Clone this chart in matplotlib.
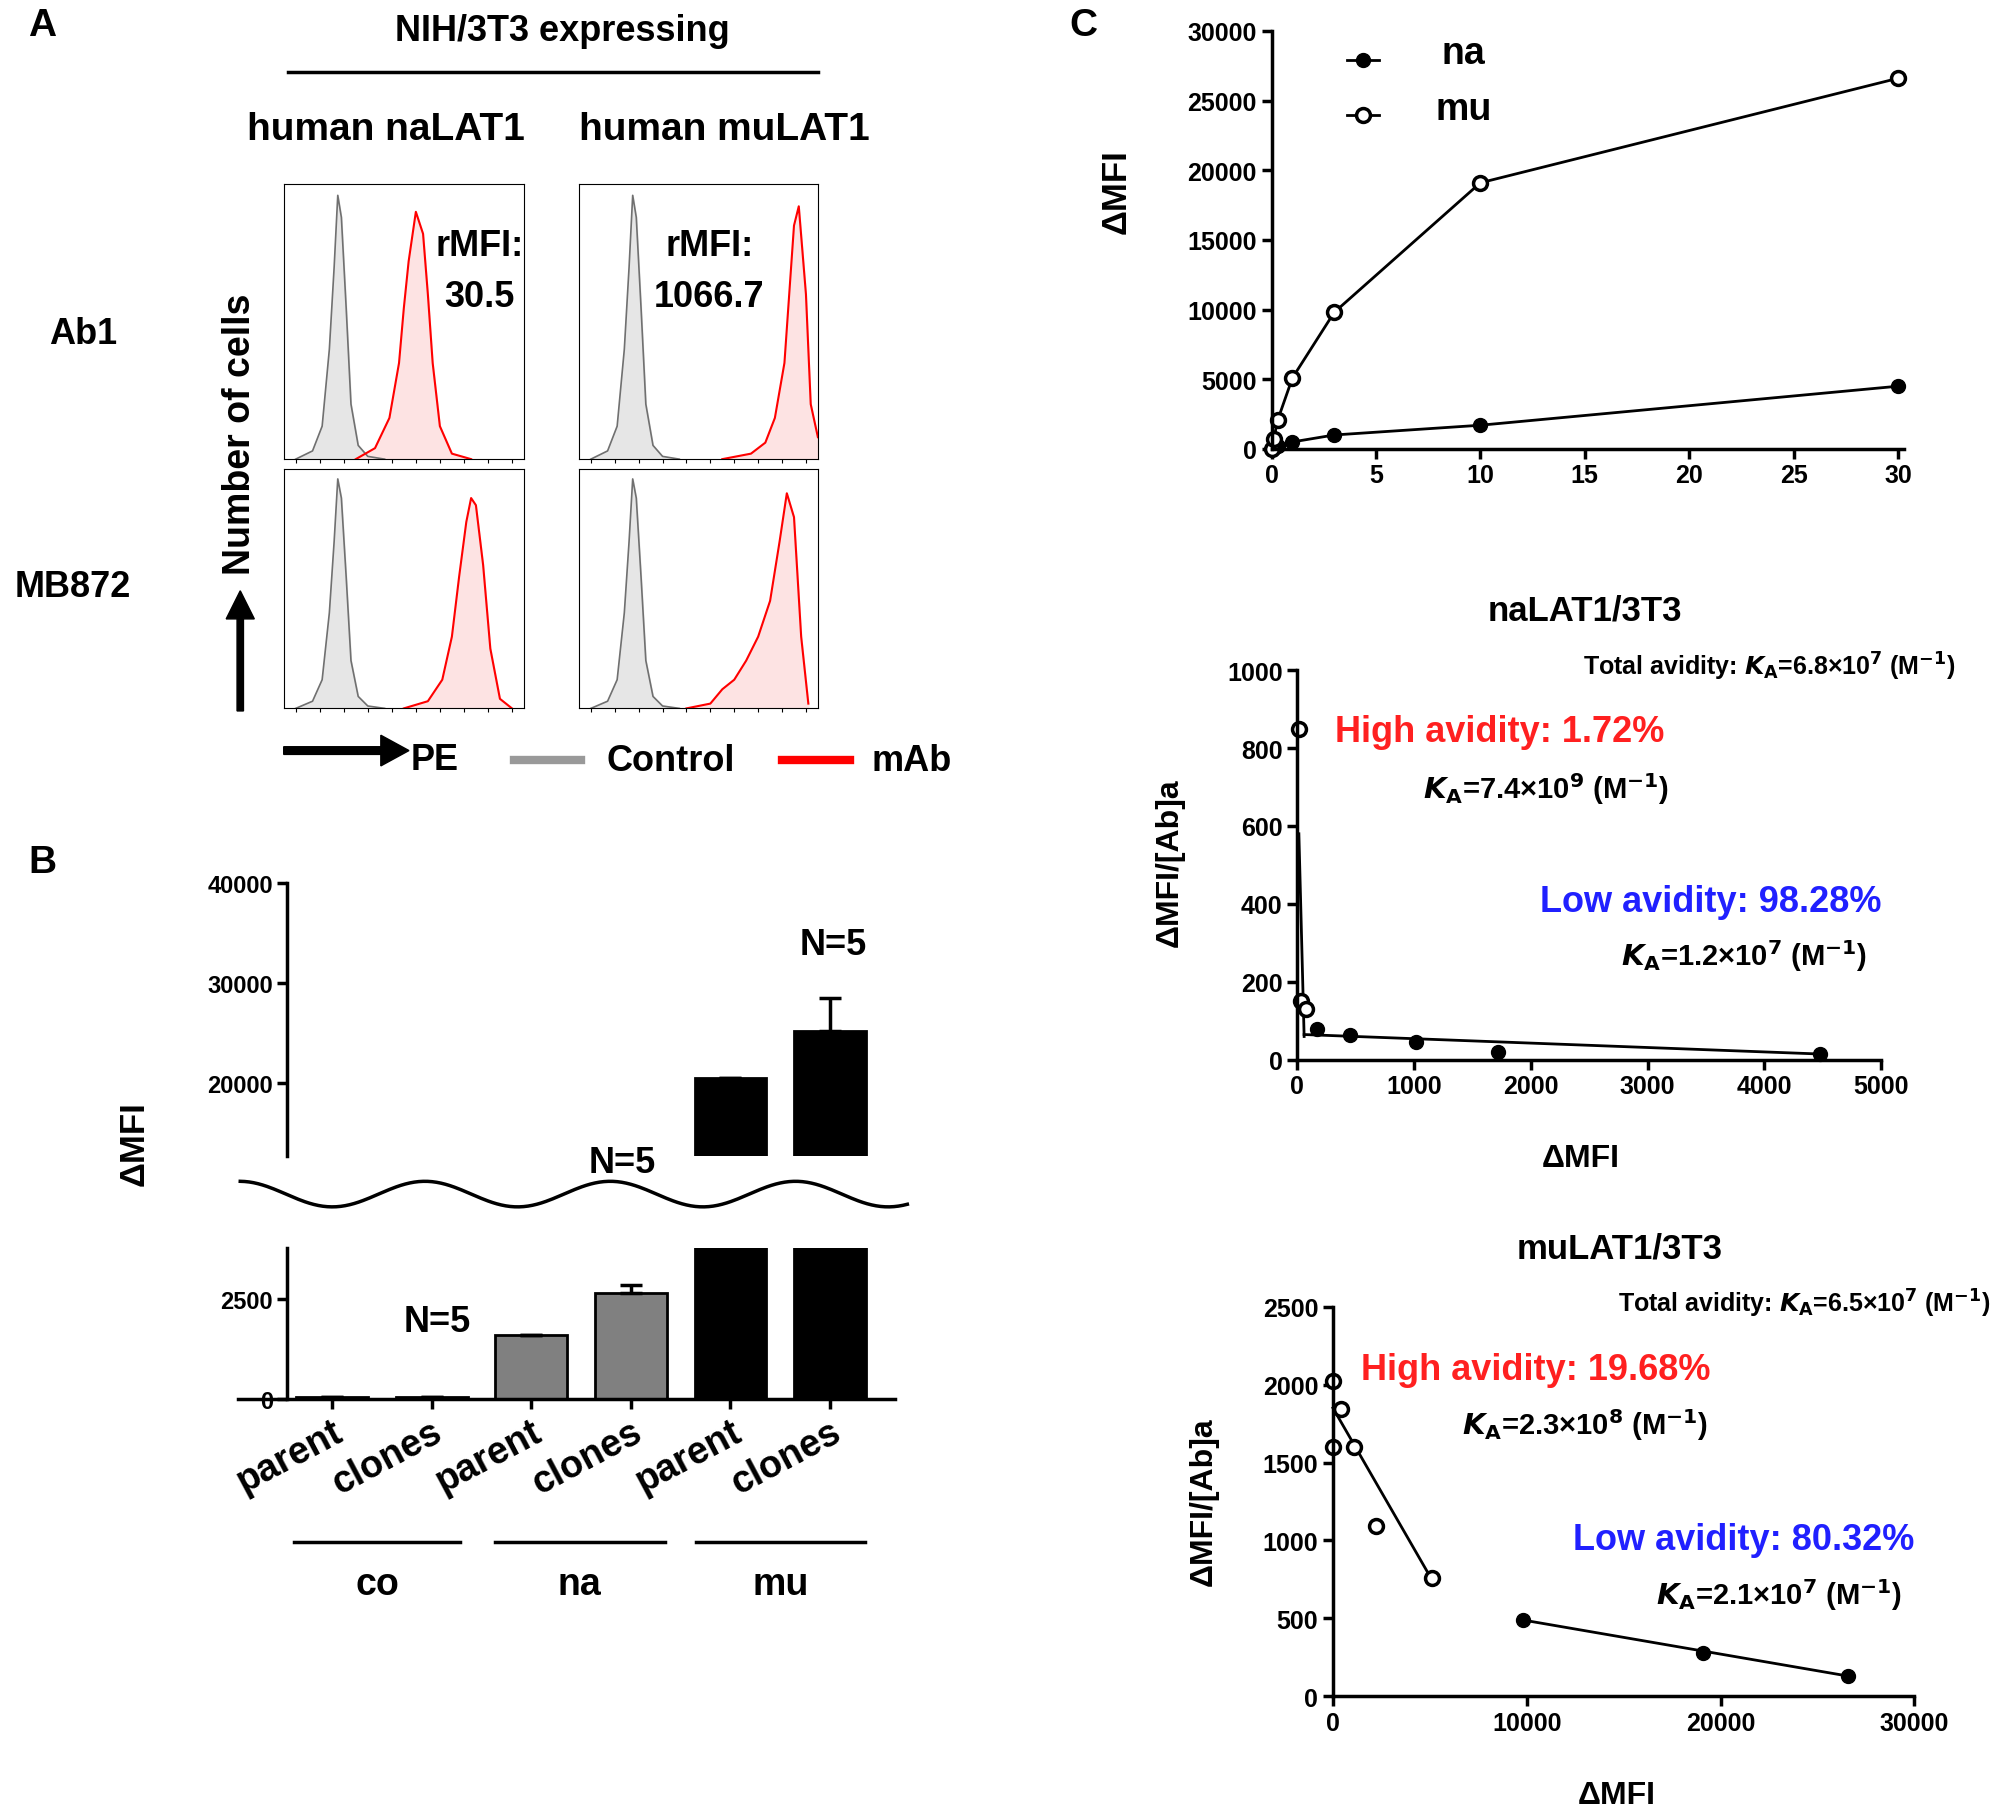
import numpy as np
import matplotlib
matplotlib.use("Agg")
import matplotlib.pyplot as plt

plt.rcParams['font.family'] = ['Liberation Sans', 'DejaVu Sans']
plt.rcParams['font.weight'] = 'bold'
plt.rcParams['axes.labelweight'] = 'bold'

W, H = 1565.0, 1420.0
fig = plt.figure(figsize=(20, 18.15), dpi=100)

def ax_at(x0, y0, x1, y1):
    return fig.add_axes([x0 / W, 1 - y1 / H, (x1 - x0) / W, (y1 - y0) / H])

def T(x, y, s, **kw):
    kw.setdefault('ha', 'center'); kw.setdefault('va', 'center')
    fig.text(x / W, 1 - y / H, s, **kw)

# ---------------- Data ----------------
ctrl_x = [0.05, 0.12, 0.16, 0.19, 0.21, 0.225, 0.24, 0.26, 0.28, 0.31, 0.35, 0.42]
ctrl_y = [0.0, 0.03, 0.12, 0.4, 0.7, 0.96, 0.88, 0.55, 0.2, 0.05, 0.01, 0.0]
a_tl_x = [0.3, 0.38, 0.44, 0.48, 0.5, 0.52, 0.55, 0.58, 0.6, 0.62, 0.65, 0.7, 0.78]
a_tl_y = [0.0, 0.04, 0.15, 0.35, 0.55, 0.72, 0.9, 0.82, 0.6, 0.35, 0.12, 0.02, 0.0]
a_tr_x = [0.6, 0.72, 0.78, 0.82, 0.86, 0.88, 0.9, 0.92, 0.95, 0.97, 1.0]
a_tr_y = [0.0, 0.02, 0.06, 0.15, 0.35, 0.6, 0.85, 0.92, 0.6, 0.2, 0.08]
a_bl_x = [0.5, 0.6, 0.66, 0.7, 0.73, 0.76, 0.78, 0.8, 0.83, 0.86, 0.9, 0.95]
a_bl_y = [0.0, 0.03, 0.12, 0.3, 0.55, 0.78, 0.88, 0.85, 0.6, 0.25, 0.04, 0.0]
a_br_x = [0.45, 0.55, 0.6, 0.65, 0.7, 0.75, 0.8, 0.84, 0.87, 0.9, 0.93, 0.96]
a_br_y = [0.0, 0.02, 0.08, 0.12, 0.2, 0.3, 0.45, 0.7, 0.9, 0.8, 0.3, 0.02]

b_labels = ['parent', 'clones', 'parent', 'clones', 'parent', 'clones']
b_values = [50, 50, 1600, 2650, 20500, 25200]
b_err = [0, 0, 0, 200, 0, 3300]
b_colors = ['#808080', '#808080', '#808080', '#808080', 'black', 'black']
b_groups = ['co', 'na', 'mu']

conc = [0, 0.1, 0.3, 1, 3, 10, 30]
na_mfi = [0, 100, 200, 500, 1000, 1700, 4500]
mu_mfi = [0, 700, 2100, 5100, 9800, 19100, 26600]

na_open_x = [17, 30, 80]
na_open_y = [850, 150, 130]
na_fill_x = [170, 450, 1020, 1720, 4480]
na_fill_y = [80, 65, 45, 20, 15]
na_high_x = [15, 60]; na_high_y = [580, 60]
na_low_x = [60, 4480]; na_low_y = [65, 15]

mu_open_x = [0, 0, 400, 1100, 2200, 5100]
mu_open_y = [2020, 1600, 1840, 1600, 1090, 760]
mu_fill_x = [9800, 19100, 26600]
mu_fill_y = [490, 280, 130]
mu_high_x = [0, 5100]; mu_high_y = [1850, 750]
mu_low_x = [9800, 26600]; mu_low_y = [490, 130]

SB = 'semibold'

# ---------------- Panel A ----------------
T(33, 20, 'A', fontsize=28)
T(440, 25, 'NIH/3T3 expressing', fontsize=26, weight=SB)
fig.add_artist(plt.Line2D([225 / W, 640 / W], [1 - 57 / H] * 2, color='black', lw=2.5))
T(302, 102, 'human naLAT1', fontsize=28, weight=SB)
T(567, 102, 'human muLAT1', fontsize=28, weight=SB)
T(65, 262, 'Ab1', fontsize=26, weight=SB)
T(57, 460, 'MB872', fontsize=26, weight=SB)

boxes = [(222, 145, 410, 360), (453, 145, 640, 360), (222, 368, 410, 555), (453, 368, 640, 555)]
reds = [(a_tl_x, a_tl_y), (a_tr_x, a_tr_y), (a_bl_x, a_bl_y), (a_br_x, a_br_y)]
for (bx, (rx, ry)) in zip(boxes, reds):
    ax = ax_at(*bx)
    ax.fill_between(ctrl_x, ctrl_y, color='#e6e6e6')
    ax.plot(ctrl_x, ctrl_y, color='#707070', lw=1.2)
    ax.fill_between(rx, ry, color='#fde3e3')
    ax.plot(rx, ry, color='red', lw=1.5)
    ax.set_xlim(0, 1); ax.set_ylim(0, 1)
    ax.set_xticks(np.linspace(0.05, 0.95, 10)); ax.set_yticks([])
    ax.tick_params(axis='x', length=3, labelbottom=False)
T(375, 193, 'rMFI:', fontsize=26, weight=SB)
T(375, 233, '30.5', fontsize=26, weight=SB)
T(555, 193, 'rMFI:', fontsize=26, weight=SB)
T(555, 233, '1066.7', fontsize=26, weight=SB)

T(188, 340, 'Number of cells', fontsize=27, weight=SB, rotation=90)
fig.add_artist(matplotlib.patches.FancyArrow(188 / W, 1 - 557 / H, 0, 72 / H, width=5 / W,
               head_width=22 / W, head_length=22 / H, color='black', transform=fig.transFigure))
fig.add_artist(matplotlib.patches.FancyArrow(222 / W, 1 - 588 / H, 76 / W, 0, width=6 / H,
               head_width=24 / H, head_length=22 / W, color='black', transform=fig.transFigure))
T(340, 595, 'PE', fontsize=26, weight=SB)
fig.add_artist(plt.Line2D([402 / W, 455 / W], [1 - 595 / H] * 2, color='#999999', lw=6))
T(525, 596, 'Control', fontsize=26, weight=SB)
fig.add_artist(plt.Line2D([612 / W, 665 / W], [1 - 595 / H] * 2, color='red', lw=6))
T(713, 596, 'mAb', fontsize=26, weight=SB)

# ---------------- Panel B ----------------
T(33, 675, 'B', fontsize=28)
xpos = np.arange(len(b_values))
axT = ax_at(186, 692, 700, 905)
axB = ax_at(186, 977, 700, 1095)
for ax in (axT, axB):
    ax.bar(xpos, b_values, width=0.72, color=b_colors, edgecolor='black', lw=2,
           yerr=[np.zeros(6), b_err], capsize=8, error_kw=dict(lw=2.5, capthick=2.5))
    ax.set_xlim(-0.95, 5.65)
    for s in ('top', 'right'):
        ax.spines[s].set_visible(False)
    ax.spines['left'].set_position(('data', -0.45))
    ax.spines['left'].set_linewidth(2.5)
    ax.tick_params(width=2.5, length=7, labelsize=17)
axT.set_ylim(12700, 40000); axT.set_yticks([20000, 30000, 40000])
axT.spines['bottom'].set_visible(False); axT.set_xticks([])
axB.set_ylim(0, 3780); axB.set_yticks([0, 2500])
axB.spines['bottom'].set_linewidth(2.5)
axB.set_xticks(xpos)
axB.set_xticklabels(b_labels, rotation=28, ha='right', fontsize=27, weight=SB,
                    rotation_mode='anchor')
axB.tick_params(axis='x', length=7)
sx = np.linspace(188, 710, 300)
sy = 935 + 10 * np.cos((sx - 260) / 145 * 2 * np.pi)
fig.add_artist(plt.Line2D(sx / W, 1 - sy / H, color='black', lw=2.5))
T(105, 895, 'ΔMFI', fontsize=25, rotation=90)
T(342, 1035, 'N=5', fontsize=26, weight=SB)
T(487, 910, 'N=5', fontsize=26, weight=SB)
T(652, 740, 'N=5', fontsize=26, weight=SB)
for (x0, x1), g in zip([(230, 360), (387, 520), (545, 677)], b_groups):
    fig.add_artist(plt.Line2D([x0 / W, x1 / W], [1 - 1207 / H] * 2, color='black', lw=2.5))
    T((x0 + x1) / 2, 1240, g, fontsize=27, weight=SB)

# ---------------- Panel C ----------------
T(848, 20, 'C', fontsize=28)

def style(ax):
    for s in ('top', 'right'):
        ax.spines[s].set_visible(False)
    for s in ('left', 'bottom'):
        ax.spines[s].set_linewidth(2.5)
    ax.tick_params(width=2.5, length=7, labelsize=18)

ax = ax_at(995, 25, 1490, 352)
ax.plot(conc, na_mfi, '-o', color='black', lw=2, ms=10, mfc='black', clip_on=False)
ax.plot(conc, mu_mfi, '-o', color='black', lw=2, ms=10, mfc='white', mew=2.5, clip_on=False)
ax.set_xlim(0, 30.3); ax.set_ylim(0, 30000)
ax.set_xticks(range(0, 31, 5)); ax.set_yticks(range(0, 30001, 5000))
style(ax)
T(873, 150, 'ΔMFI', fontsize=25, rotation=90)
ax.plot([0.12, 0.17], [0.93, 0.93], '-', transform=ax.transAxes, color='black', lw=2, clip_on=False)
ax.plot([0.12, 0.17], [0.8, 0.8], '-', transform=ax.transAxes, color='black', lw=2, clip_on=False)
ax.plot([0.145], [0.93], 'o', transform=ax.transAxes, color='black', ms=10)
ax.plot([0.145], [0.8], 'o', transform=ax.transAxes, color='black', ms=10, mfc='white', mew=2.5)
T(1145, 42, 'na', fontsize=27, weight=SB)
T(1145, 86, 'mu', fontsize=27, weight=SB)

def scatchard(box, ox, oy, fx, fy, hx, hy, lx, ly, xlim, ylim, xt, yt):
    ax = ax_at(*box)
    ax.plot(hx, hy, color='black', lw=2)
    ax.plot(lx, ly, color='black', lw=2)
    ax.plot(fx, fy, 'o', color='black', ms=10)
    ax.plot(ox, oy, 'o', color='black', ms=10, mfc='white', mew=2.5)
    for l in ax.lines: l.set_clip_on(False)
    ax.set_xlim(*xlim); ax.set_ylim(*ylim)
    ax.set_xticks(xt); ax.set_yticks(yt)
    style(ax)
    return ax

scatchard((1015, 525, 1472, 830), na_open_x, na_open_y, na_fill_x, na_fill_y,
          na_high_x, na_high_y, na_low_x, na_low_y, (0, 5000), (0, 1000),
          range(0, 5001, 1000), range(0, 1001, 200))
T(1240, 478, 'naLAT1/3T3', fontsize=25)
T(1530, 522, r'Total avidity: $\mathbf{\mathit{K}_A}$=6.8×10$^{\mathbf{7}}$ (M$^{\mathbf{-1}}$)', fontsize=18, ha='right')
T(1045, 573, 'High avidity: 1.72%', fontsize=26, color='#ff2020', ha='left', weight=SB)
T(1210, 617, r'$\mathbf{\mathit{K}_A}$=7.4×10$^{\mathbf{9}}$ (M$^{\mathbf{-1}}$)', fontsize=21)
T(1472, 706, 'Low avidity: 98.28%', fontsize=26, color='#2020ff', ha='right', weight=SB)
T(1365, 748, r'$\mathbf{\mathit{K}_A}$=1.2×10$^{\mathbf{7}}$ (M$^{\mathbf{-1}}$)', fontsize=21)
T(915, 675, 'ΔMFI/[Ab]a', fontsize=23, rotation=90)
T(1237, 907, 'ΔMFI', fontsize=23)

scatchard((1043, 1023, 1498, 1328), mu_open_x, mu_open_y, mu_fill_x, mu_fill_y,
          mu_high_x, mu_high_y, mu_low_x, mu_low_y, (0, 30000), (0, 2500),
          range(0, 30001, 10000), range(0, 2501, 500))
T(1267, 977, 'muLAT1/3T3', fontsize=25)
T(1558, 1020, r'Total avidity: $\mathbf{\mathit{K}_A}$=6.5×10$^{\mathbf{7}}$ (M$^{\mathbf{-1}}$)', fontsize=18, ha='right')
T(1065, 1072, 'High avidity: 19.68%', fontsize=26, color='#ff2020', ha='left', weight=SB)
T(1240, 1115, r'$\mathbf{\mathit{K}_A}$=2.3×10$^{\mathbf{8}}$ (M$^{\mathbf{-1}}$)', fontsize=21)
T(1498, 1205, 'Low avidity: 80.32%', fontsize=26, color='#2020ff', ha='right', weight=SB)
T(1392, 1248, r'$\mathbf{\mathit{K}_A}$=2.1×10$^{\mathbf{7}}$ (M$^{\mathbf{-1}}$)', fontsize=21)
T(942, 1175, 'ΔMFI/[Ab]a', fontsize=23, rotation=90)
T(1265, 1405, 'ΔMFI', fontsize=23)

fig.savefig('out.png', dpi=100)
